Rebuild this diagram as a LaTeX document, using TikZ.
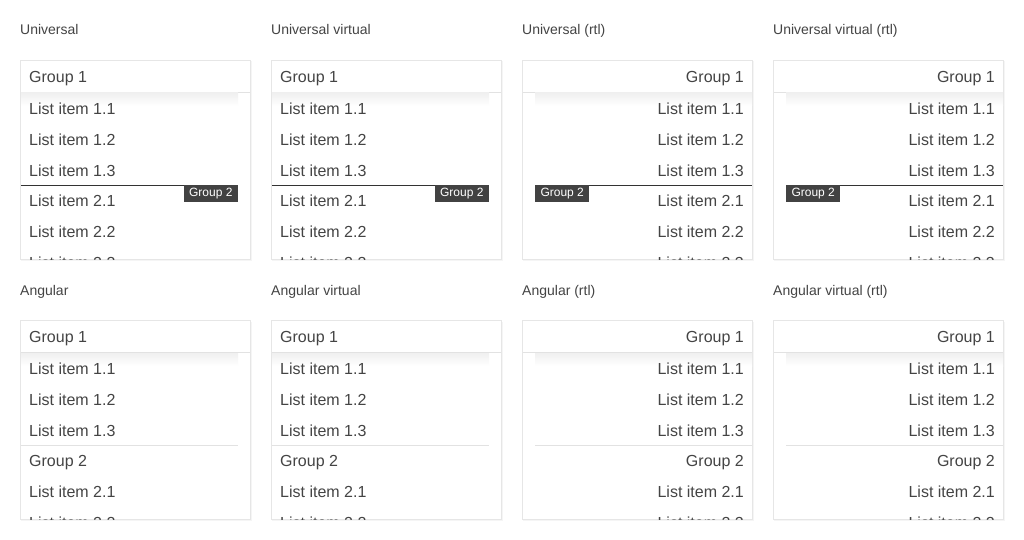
\documentclass[tikz,border=0pt]{standalone}
\usepackage{fontspec}
\setmainfont{Liberation Sans}
\definecolor{txt}{HTML}{444444}
\definecolor{bdr}{HTML}{E6E6E6}
\definecolor{badgec}{HTML}{424242}
\definecolor{darkl}{HTML}{333333}
\definecolor{lightl}{HTML}{E2E2E2}
\tikzset{
  ttl/.style={anchor=base west, inner sep=0pt, text=txt, font=\fontsize{14}{16}\selectfont},
  itl/.style={anchor=base west, inner sep=0pt, text=txt, font=\fontsize{16}{18}\selectfont},
  itr/.style={anchor=base east, inner sep=0pt, text=txt, font=\fontsize{16}{18}\selectfont},
  boxp/.style={draw=bdr, fill=white, line width=1pt},
  boxshadow/.style={fill=black!4},
  sepl/.style={draw=lightl, line width=1pt},
  darkline/.style={draw=darkl, line width=1pt},
  grp/.style={fill=badgec, text=white, font=\fontsize{12}{14}\selectfont, inner xsep=5.3pt, inner ysep=0pt, minimum height=17pt},
}
% #1 x0, #2 y0, #3 name, #4 title, #5 item style, #6 text x, #7 decor start, #8 decor end, #9 badge options
\newcommand\univpanel[9]{%
  \begin{scope}[shift={(#1,#2)}]
    \node[ttl] (#3-t) at (0,35) {#4};
    \fill[boxshadow] (0.5,61.5) rectangle (231.5,261);
    \path[boxp] (0.5,60.5) rectangle (230.5,259.5);
    \node[#5] (#3-h) at (#6,82.5) {Group 1};
    \draw[sepl] (1,92.5) -- (230,92.5);
    \begin{scope}
      \clip (1,93) rectangle (230,259);
      \shade[top color=black!6, bottom color=white] (#7,93) rectangle (#8,106);
      \node[#5] (#3-a) at (#6,114.6) {List item 1.1};
      \node[#5] (#3-b) at (#6,145.35) {List item 1.2};
      \node[#5] (#3-c) at (#6,176.1) {List item 1.3};
      \node[#5] (#3-d) at (#6,206.85) {List item 2.1};
      \node[#5] (#3-e) at (#6,237.6) {List item 2.2};
      \node[#5] (#3-f) at (#6,268.35) {List item 2.3};
      \coordinate (#3-l1) at (#7,185.5);
      \coordinate (#3-l2) at (#8,185.5);
      \draw[darkline] (#3-l1) -- (#3-l2);
      \node[grp, #9] (#3-g) {Group 2};
    \end{scope}
  \end{scope}}
% #1 x0, #2 y0, #3 name, #4 title, #5 item style, #6 text x, #7 decor start, #8 decor end
\newcommand\angpanel[8]{%
  \begin{scope}[shift={(#1,#2)}]
    \node[ttl] (#3-t) at (0,35) {#4};
    \fill[boxshadow] (0.5,61.5) rectangle (231.5,261);
    \path[boxp] (0.5,60.5) rectangle (230.5,259.5);
    \node[#5] (#3-h) at (#6,82.5) {Group 1};
    \draw[sepl] (1,92.5) -- (230,92.5);
    \begin{scope}
      \clip (1,93) rectangle (230,259);
      \shade[top color=black!6, bottom color=white] (#7,93) rectangle (#8,106);
      \node[#5] (#3-a) at (#6,114.6) {List item 1.1};
      \node[#5] (#3-b) at (#6,145.35) {List item 1.2};
      \node[#5] (#3-c) at (#6,176.1) {List item 1.3};
      \coordinate (#3-l1) at (#7,185.5);
      \coordinate (#3-l2) at (#8,185.5);
      \draw[sepl] (#3-l1) -- (#3-l2);
      \node[#5] (#3-g) at (#6,206.85) {Group 2};
      \node[#5] (#3-d) at (#6,237.6) {List item 2.1};
      \node[#5] (#3-e) at (#6,268.35) {List item 2.2};
    \end{scope}
  \end{scope}}
\begin{document}
\begin{tikzpicture}[x=1pt, y=-1pt]
  \useasboundingbox[fill=white] (0,0) rectangle (1024,540);
  \univpanel{20}{0}{p1}{Universal}{itl}{9}{1}{218}{anchor=north east, at={(218,185)}}
  \univpanel{271}{0}{p2}{Universal virtual}{itl}{9}{1}{218}{anchor=north east, at={(218,185)}}
  \univpanel{522}{0}{p3}{Universal (rtl)}{itr}{222}{13}{230}{anchor=north west, at={(13,185)}}
  \univpanel{773}{0}{p4}{Universal virtual (rtl)}{itr}{222}{13}{230}{anchor=north west, at={(13,185)}}
  \angpanel{20}{260}{q1}{Angular}{itl}{9}{1}{218}
  \angpanel{271}{260}{q2}{Angular virtual}{itl}{9}{1}{218}
  \angpanel{522}{260}{q3}{Angular (rtl)}{itr}{222}{13}{230}
  \angpanel{773}{260}{q4}{Angular virtual (rtl)}{itr}{222}{13}{230}
\end{tikzpicture}
\end{document}
